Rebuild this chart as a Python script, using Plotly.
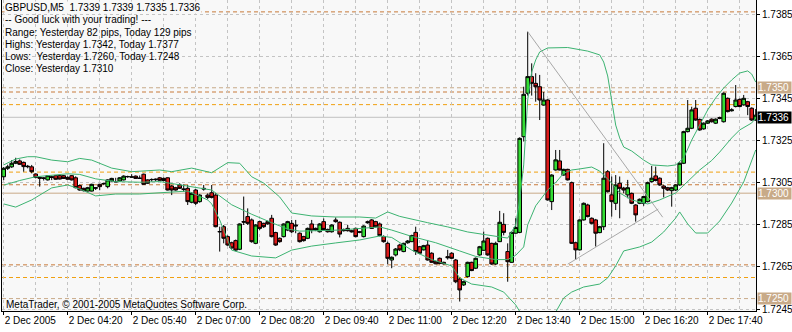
import pandas as pd
import plotly.graph_objects as go

# ---------------- data ----------------
open_prices = [
    1.73078, 1.73118, 1.73125, 1.73142, 1.73153, 1.73146, 1.73128, 1.73125, 1.73091, 1.73075,
    1.73070, 1.73063, 1.73078, 1.73083, 1.73083, 1.73083, 1.73075, 1.73083, 1.73073, 1.73036,
    1.73023, 1.73010, 1.73010, 1.73026, 1.73042, 1.73044, 1.73031, 1.73058, 1.73055, 1.73058,
    1.73063, 1.73078, 1.73076, 1.73081, 1.73070, 1.73090, 1.73063, 1.73064, 1.73064, 1.73073,
    1.73070, 1.73073, 1.73034, 1.73026, 1.73039, 1.73020, 1.73023, 1.72957, 1.73015, 1.72960,
    1.73023, 1.72991, 1.73002, 1.72991, 1.72818, 1.72841, 1.72794, 1.72765, 1.72775, 1.72734,
    1.72865, 1.72889, 1.72873, 1.72762, 1.72865, 1.72857, 1.72865, 1.72881, 1.72813, 1.72786,
    1.72794, 1.72825, 1.72857, 1.72849, 1.72810, 1.72794, 1.72786, 1.72854, 1.72833, 1.72817,
    1.72865, 1.72828, 1.72817, 1.72873, 1.72862, 1.72828, 1.72833, 1.72822, 1.72833, 1.72817,
    1.72794, 1.72865, 1.72873, 1.72865, 1.72854, 1.72794, 1.72762, 1.72683, 1.72707, 1.72754,
    1.72723, 1.72765, 1.72770, 1.72814, 1.72746, 1.72731, 1.72754, 1.72715, 1.72675, 1.72691,
    1.72672, 1.72699, 1.72715, 1.72683, 1.72593, 1.72565, 1.72604, 1.72672, 1.72644, 1.72707,
    1.72729, 1.72786, 1.72762, 1.72664, 1.72770, 1.72852, 1.72723, 1.72672, 1.72810, 1.72814,
    1.73268, 1.73474, 1.73553, 1.73521, 1.73505, 1.73418, 1.73442, 1.72960, 1.73110, 1.73153,
    1.73086, 1.73113, 1.73050, 1.72765, 1.72731, 1.72873, 1.72944, 1.72881, 1.72873, 1.72813,
    1.72841, 1.73102, 1.72992, 1.72952, 1.73047, 1.73024, 1.72992, 1.72999, 1.72944, 1.72952,
    1.72952, 1.72960, 1.73055, 1.73082, 1.73071, 1.73034, 1.73026, 1.73012, 1.73015, 1.73039,
    1.73142, 1.73292, 1.73308, 1.73403, 1.73350, 1.73305, 1.73332, 1.73351, 1.73332, 1.73359,
    1.73339, 1.73450, 1.73391, 1.73411, 1.73445, 1.73419, 1.73434, 1.73403, 1.73347,
]
high_prices = [
    1.73124, 1.73135, 1.73157, 1.73168, 1.73160, 1.73150, 1.73134, 1.73134, 1.73094, 1.73080,
    1.73075, 1.73086, 1.73083, 1.73085, 1.73086, 1.73086, 1.73080, 1.73086, 1.73080, 1.73040,
    1.73026, 1.73030, 1.73045, 1.73028, 1.73045, 1.73050, 1.73066, 1.73073, 1.73073, 1.73076,
    1.73085, 1.73083, 1.73090, 1.73084, 1.73084, 1.73093, 1.73066, 1.73070, 1.73070, 1.73077,
    1.73075, 1.73075, 1.73038, 1.73030, 1.73047, 1.73042, 1.73039, 1.73005, 1.73020, 1.72995,
    1.73039, 1.72999, 1.73039, 1.73000, 1.72841, 1.72849, 1.72800, 1.72770, 1.72780, 1.72857,
    1.72984, 1.72928, 1.72880, 1.72853, 1.72870, 1.72860, 1.72870, 1.72897, 1.72817, 1.72790,
    1.72857, 1.72869, 1.72873, 1.72873, 1.72814, 1.72798, 1.72837, 1.72873, 1.72837, 1.72858,
    1.72880, 1.72832, 1.72853, 1.72885, 1.72866, 1.72832, 1.72850, 1.72826, 1.72837, 1.72821,
    1.72848, 1.72870, 1.72877, 1.72869, 1.72861, 1.72800, 1.72770, 1.72700, 1.72740, 1.72760,
    1.72765, 1.72778, 1.72803, 1.72841, 1.72750, 1.72755, 1.72778, 1.72720, 1.72680, 1.72695,
    1.72675, 1.72731, 1.72720, 1.72688, 1.72600, 1.72585, 1.72675, 1.72675, 1.72695, 1.72750,
    1.72818, 1.72790, 1.72765, 1.72770, 1.72916, 1.72905, 1.72762, 1.72818, 1.72881, 1.73265,
    1.73505, 1.73766, 1.73616, 1.73569, 1.73561, 1.73480, 1.73446, 1.73090, 1.73205, 1.73205,
    1.73116, 1.73116, 1.73055, 1.72770, 1.72876, 1.72956, 1.72950, 1.72885, 1.72878, 1.72845,
    1.73237, 1.73110, 1.73079, 1.73086, 1.73079, 1.73030, 1.73063, 1.73003, 1.72948, 1.72975,
    1.72988, 1.73055, 1.73129, 1.73126, 1.73075, 1.73038, 1.73030, 1.73030, 1.73043, 1.73146,
    1.73296, 1.73442, 1.73410, 1.73442, 1.73354, 1.73336, 1.73347, 1.73355, 1.73355, 1.73363,
    1.73478, 1.73454, 1.73403, 1.73513, 1.73449, 1.73466, 1.73438, 1.73407, 1.73399,
]
low_prices = [
    1.73062, 1.73110, 1.73120, 1.73138, 1.73135, 1.73102, 1.73118, 1.73094, 1.73070, 1.73031,
    1.73060, 1.73060, 1.73062, 1.73064, 1.73065, 1.73068, 1.73064, 1.73060, 1.73023, 1.73012,
    1.73008, 1.73008, 1.73008, 1.73015, 1.73014, 1.73040, 1.73023, 1.73055, 1.73052, 1.73055,
    1.73060, 1.73073, 1.73074, 1.73068, 1.73069, 1.73040, 1.73044, 1.73055, 1.73057, 1.73058,
    1.73056, 1.73013, 1.72991, 1.73012, 1.73020, 1.73007, 1.72944, 1.72952, 1.72944, 1.72955,
    1.73012, 1.72971, 1.72975, 1.72838, 1.72723, 1.72762, 1.72750, 1.72735, 1.72725, 1.72730,
    1.72849, 1.72849, 1.72765, 1.72758, 1.72825, 1.72835, 1.72850, 1.72790, 1.72750, 1.72765,
    1.72790, 1.72820, 1.72810, 1.72810, 1.72766, 1.72770, 1.72782, 1.72810, 1.72820, 1.72813,
    1.72824, 1.72813, 1.72813, 1.72860, 1.72790, 1.72818, 1.72818, 1.72813, 1.72790, 1.72810,
    1.72790, 1.72855, 1.72830, 1.72837, 1.72795, 1.72765, 1.72663, 1.72644, 1.72700, 1.72725,
    1.72720, 1.72760, 1.72768, 1.72707, 1.72712, 1.72728, 1.72680, 1.72670, 1.72663, 1.72663,
    1.72662, 1.72685, 1.72688, 1.72573, 1.72486, 1.72560, 1.72600, 1.72630, 1.72640, 1.72703,
    1.72726, 1.72703, 1.72660, 1.72660, 1.72768, 1.72800, 1.72580, 1.72670, 1.72808, 1.72810,
    1.73245, 1.73463, 1.73463, 1.73434, 1.73347, 1.73415, 1.72965, 1.72920, 1.73107, 1.73108,
    1.73083, 1.73060, 1.72759, 1.72683, 1.72728, 1.72870, 1.72885, 1.72852, 1.72747, 1.72810,
    1.72825, 1.73003, 1.72889, 1.72920, 1.72881, 1.73000, 1.72976, 1.72948, 1.72865, 1.72948,
    1.72940, 1.72956, 1.73050, 1.73056, 1.73035, 1.72980, 1.73010, 1.72936, 1.73010, 1.73035,
    1.73138, 1.73288, 1.73304, 1.73343, 1.73296, 1.73301, 1.73328, 1.73335, 1.73328, 1.73351,
    1.73335, 1.73383, 1.73387, 1.73407, 1.73407, 1.73415, 1.73370, 1.73343, 1.73343,
]
close_prices = [
    1.73118, 1.73125, 1.73142, 1.73150, 1.73137, 1.73126, 1.73126, 1.73102, 1.73075, 1.73071,
    1.73072, 1.73083, 1.73075, 1.73066, 1.73067, 1.73070, 1.73066, 1.73063, 1.73026, 1.73015,
    1.73012, 1.73026, 1.73042, 1.73024, 1.73031, 1.73046, 1.73063, 1.73070, 1.73054, 1.73073,
    1.73081, 1.73079, 1.73077, 1.73070, 1.73071, 1.73042, 1.73047, 1.73065, 1.73066, 1.73061,
    1.73060, 1.73015, 1.73015, 1.73015, 1.73023, 1.73018, 1.72960, 1.72999, 1.72952, 1.72991,
    1.73020, 1.72980, 1.72980, 1.72841, 1.72817, 1.72786, 1.72754, 1.72740, 1.72730, 1.72854,
    1.72863, 1.72857, 1.72770, 1.72849, 1.72833, 1.72841, 1.72855, 1.72794, 1.72754, 1.72770,
    1.72854, 1.72865, 1.72817, 1.72845, 1.72770, 1.72775, 1.72833, 1.72825, 1.72825, 1.72854,
    1.72828, 1.72817, 1.72849, 1.72865, 1.72806, 1.72822, 1.72822, 1.72817, 1.72794, 1.72815,
    1.72844, 1.72860, 1.72833, 1.72841, 1.72799, 1.72770, 1.72691, 1.72696, 1.72735, 1.72731,
    1.72762, 1.72773, 1.72799, 1.72723, 1.72715, 1.72751, 1.72683, 1.72672, 1.72665, 1.72667,
    1.72665, 1.72694, 1.72691, 1.72580, 1.72541, 1.72580, 1.72672, 1.72633, 1.72691, 1.72746,
    1.72773, 1.72707, 1.72664, 1.72762, 1.72862, 1.72814, 1.72675, 1.72814, 1.72837, 1.73260,
    1.73469, 1.73553, 1.73521, 1.73505, 1.73442, 1.73442, 1.72968, 1.73086, 1.73158, 1.73110,
    1.73113, 1.73063, 1.72762, 1.72731, 1.72873, 1.72952, 1.72889, 1.72857, 1.72810, 1.72841,
    1.73071, 1.73007, 1.72960, 1.73039, 1.73023, 1.73015, 1.73026, 1.72952, 1.72897, 1.72971,
    1.72984, 1.73050, 1.73071, 1.73060, 1.73039, 1.73023, 1.73015, 1.73026, 1.73039, 1.73142,
    1.73292, 1.73308, 1.73395, 1.73347, 1.73300, 1.73332, 1.73343, 1.73339, 1.73351, 1.73355,
    1.73474, 1.73387, 1.73395, 1.73442, 1.73411, 1.73450, 1.73411, 1.73347, 1.73370,
]

# Bollinger band readings (bar index -> price)
upper_bars = [0, 3, 6, 8, 12, 16, 19, 22, 27, 32, 39, 42, 47, 52, 56, 59, 62, 65, 69, 72,
              77, 83, 89, 93, 96, 99, 106, 111, 116, 122, 126, 128, 129, 130, 131, 132, 133, 134, 136, 141,
              146, 149, 150, 151, 152, 153, 154, 155, 157, 160, 162, 166, 168, 170, 172, 174, 176, 178, 180, 182,
              184, 186, 187, 188]
upper_band = [1.73134, 1.73162, 1.73173, 1.73173, 1.73157, 1.73149, 1.73165, 1.73157, 1.73119, 1.73102,
              1.73110, 1.73102, 1.73119, 1.73097, 1.73145, 1.73142, 1.73078, 1.73048, 1.72982, 1.72906,
              1.72892, 1.72887, 1.72887, 1.72882, 1.72911, 1.72890, 1.72860, 1.72840, 1.72816, 1.72797,
              1.72787, 1.72849, 1.72968, 1.73134, 1.73442, 1.73575, 1.73632, 1.73670, 1.73689, 1.73691,
              1.73674, 1.73656, 1.73622, 1.73556, 1.73442, 1.73323, 1.73262, 1.73219, 1.73200, 1.73157,
              1.73134, 1.73129, 1.73134, 1.73167, 1.73252, 1.73323, 1.73395, 1.73452, 1.73499, 1.73537,
              1.73570, 1.73580, 1.73565, 1.73527]
middle_bars = [0, 4, 8, 16, 19, 23, 28, 34, 39, 46, 52, 57, 62, 67, 71, 74, 84, 94, 97, 102,
               108, 114, 118, 123, 126, 128, 130, 131, 133, 136, 138, 140, 142, 144, 147, 149, 152, 154, 157, 161,
               164, 168, 172, 174, 177, 179, 182, 184, 187, 188]
middle_band = [1.73038, 1.73060, 1.73078, 1.73092, 1.73089, 1.73068, 1.73055, 1.73052, 1.73055, 1.73034,
               1.73015, 1.72945, 1.72900, 1.72860, 1.72830, 1.72820, 1.72825, 1.72840, 1.72825, 1.72795,
               1.72765, 1.72726, 1.72700, 1.72685, 1.72685, 1.72705, 1.72745, 1.72850, 1.72940, 1.73015,
               1.73050, 1.73095, 1.73110, 1.73115, 1.73124, 1.73105, 1.73048, 1.73001, 1.72968, 1.72949,
               1.72968, 1.73001, 1.73072, 1.73110, 1.73155, 1.73195, 1.73262, 1.73300, 1.73333, 1.73357]
lower_bars = [0, 3, 7, 12, 16, 19, 23, 28, 34, 39, 46, 51, 52, 54, 57, 62, 68, 72, 77, 83,
              89, 94, 97, 102, 107, 112, 114, 117, 122, 125, 128, 130, 131, 133, 135, 137, 138, 140, 142, 145,
              149, 151, 153, 155, 159, 162, 165, 168, 169, 171, 173, 176, 179, 182, 185, 188]
lower_band = [1.72949, 1.72934, 1.72968, 1.73025, 1.73039, 1.73020, 1.72987, 1.72996, 1.72996, 1.73001,
              1.73010, 1.72968, 1.72949, 1.72873, 1.72730, 1.72702, 1.72693, 1.72730, 1.72749, 1.72764,
              1.72778, 1.72797, 1.72790, 1.72730, 1.72685, 1.72655, 1.72598, 1.72569, 1.72555, 1.72531,
              1.72470, 1.72408, 1.72351, 1.72313, 1.72304, 1.72389, 1.72436, 1.72503, 1.72531, 1.72555,
              1.72569, 1.72598, 1.72655, 1.72726, 1.72745, 1.72768, 1.72816, 1.72882, 1.72911, 1.72854,
              1.72811, 1.72811, 1.72868, 1.72953, 1.73053, 1.73205]

pivot_levels = [1.7386, 1.7348, 1.7304, 1.7266]
yesterday_levels = [1.7342, 1.7310, 1.7260]
round_levels = [1.7350, 1.7300, 1.7250]
round_level_solid = [False, True, False]
current_price = 1.7336

trend_times = [["2005-12-02 13:55:00", "2005-12-02 16:43:45"],
               ["2005-12-02 14:45:00", "2005-12-02 16:38:15"]]
trend_prices = [[1.73766, 1.72886], [1.72663, 1.72925]]

y_tick_values = [1.7245, 1.7265, 1.7285, 1.7305, 1.7325, 1.7345, 1.7365, 1.7385]
y_tick_labels = ["1.7245", "1.7265", "1.7285", "1.7305", "1.7325", "1.7345", "1.7365", "1.7385"]
x_tick_labels = ["2 Dec 2005", "2 Dec 04:20", "2 Dec 05:40", "2 Dec 07:00", "2 Dec 08:20",
                 "2 Dec 09:40", "2 Dec 11:00", "2 Dec 12:20", "2 Dec 13:40", "2 Dec 15:00",
                 "2 Dec 16:20", "2 Dec 17:40"]
info_lines = [
    "GBPUSD,M5\u00a0\u00a01.7339 1.7339 1.7335 1.7336",
    "-- Good luck with your trading! ---",
    "Range: Yesterday 82 pips, Today 129 pips",
    "Highs: Yesterday 1.7342, Today 1.7377",
    "Lows:\u00a0 Yesterday 1.7260, Today 1.7248",
    "Close: Yesterday 1.7310",
]
copyright_text = "MetaTrader, \u00a9 2001-2005 MetaQuotes Software Corp."

# ---------------- figure ----------------
times = pd.date_range("2005-12-02 03:00", periods=len(close_prices), freq="5min")

FONT = "Liberation Sans, Arial, sans-serif"
BAND = "#3cb371"
PIVOT = "#c87a3a"
YEST = "#f0a010"
ROUND = "#c8aa88"
GRID = "#c4c4c4"
PLOTBG = "#f8f8f8"

fig = go.Figure()

for bars, vals in [(upper_bars, upper_band), (middle_bars, middle_band), (lower_bars, lower_band)]:
    fig.add_trace(go.Scatter(x=times[bars], y=vals, mode="lines",
                             line=dict(color=BAND, width=1), hoverinfo="skip"))

for tt, tp in zip(trend_times, trend_prices):
    fig.add_trace(go.Scatter(x=pd.to_datetime(tt), y=tp, mode="lines",
                             line=dict(color="#a8a8a8", width=1), hoverinfo="skip"))

fig.add_trace(go.Candlestick(
    x=times, open=open_prices, high=high_prices, low=low_prices, close=close_prices,
    increasing=dict(fillcolor="#33dd33", line=dict(color="black", width=1)),
    decreasing=dict(fillcolor="#dd1a1a", line=dict(color="black", width=1)),
    whiskerwidth=0,
))

dash = "4px,3px"
for v in pivot_levels:
    fig.add_shape(type="line", xref="paper", x0=0, x1=1, yref="y", y0=v, y1=v,
                  line=dict(color=PIVOT, width=1, dash=dash), layer="between")
for v in yesterday_levels:
    fig.add_shape(type="line", xref="paper", x0=0, x1=1, yref="y", y0=v, y1=v,
                  line=dict(color=YEST, width=1, dash=dash), layer="between")
for v, solid in zip(round_levels, round_level_solid):
    fig.add_shape(type="line", xref="paper", x0=0, x1=1, yref="y", y0=v, y1=v,
                  line=dict(color=ROUND, width=1, dash="solid" if solid else dash), layer="between")
fig.add_shape(type="line", xref="paper", x0=0, x1=1, yref="y", y0=current_price, y1=current_price,
              line=dict(color="#c0c0c0", width=1), layer="between")

# right-hand price tags
for v in round_levels:
    fig.add_annotation(xref="paper", x=1, xanchor="left", xshift=1, yref="y", y=v,
                       text=f"{v:.4f}", showarrow=False, font=dict(family=FONT, size=10, color="white"),
                       bgcolor=ROUND, width=33, align="left", borderpad=0)
fig.add_annotation(xref="paper", x=1, xanchor="left", xshift=1, yref="y", y=current_price,
                   text=f"{current_price:.4f}", showarrow=False, font=dict(family=FONT, size=10, color="white"),
                   bgcolor="black", width=33, align="left", borderpad=0)

# info text
line_offsets = [7, 19, 32, 44, 56, 68]
for i, (txt, off) in enumerate(zip(info_lines, line_offsets)):
    fig.add_annotation(xref="paper", x=0, xanchor="left", xshift=2, yref="paper", y=1,
                       yanchor="middle", yshift=-off, text=txt, showarrow=False,
                       font=dict(family=FONT, size=10, color="black"),
                       bgcolor=PLOTBG if i == 0 else None, borderpad=0)
fig.add_annotation(xref="paper", x=0, xanchor="left", xshift=2, yref="paper", y=0,
                   yanchor="middle", yshift=7, text=copyright_text, showarrow=False,
                   font=dict(family=FONT, size=10, color="black"))

fig.update_layout(
    width=792, height=332,
    margin=dict(l=2, r=36, t=0, b=21, pad=0),
    paper_bgcolor="white", plot_bgcolor=PLOTBG,
    showlegend=False,
    boxgap=0.1, boxgroupgap=0,
    font=dict(family=FONT, size=10, color="black"),
    xaxis=dict(
        type="date",
        range=["2005-12-02 02:57:52.5", "2005-12-02 18:40:22.5"],
        rangeslider=dict(visible=False),
        tickmode="array", tickvals=times[0::16], ticktext=x_tick_labels,
        ticklabelposition="outside right",
        ticks="outside", ticklen=3, tickcolor="black",
        showgrid=True, gridcolor=GRID, griddash="3px,3px", gridwidth=1,
        minor=dict(tickmode="array", tickvals=times[8::16], showgrid=True, gridcolor=GRID,
                   griddash="3px,3px", ticks=""),
        showline=True, linecolor="black", linewidth=1, mirror=False,
        zeroline=False, tickfont=dict(family=FONT, size=10, color="black"),
    ),
    yaxis=dict(
        side="right",
        range=[1.724411, 1.739164],
        tickmode="array", tickvals=y_tick_values, ticktext=y_tick_labels,
        ticks="outside", ticklen=3, tickcolor="black",
        showgrid=True, gridcolor=GRID, griddash="3px,3px", gridwidth=1,
        showline=True, linecolor="black", linewidth=1, mirror=True,
        zeroline=False, tickfont=dict(family=FONT, size=10, color="black"),
    ),
)

fig.write_html("out.html")
